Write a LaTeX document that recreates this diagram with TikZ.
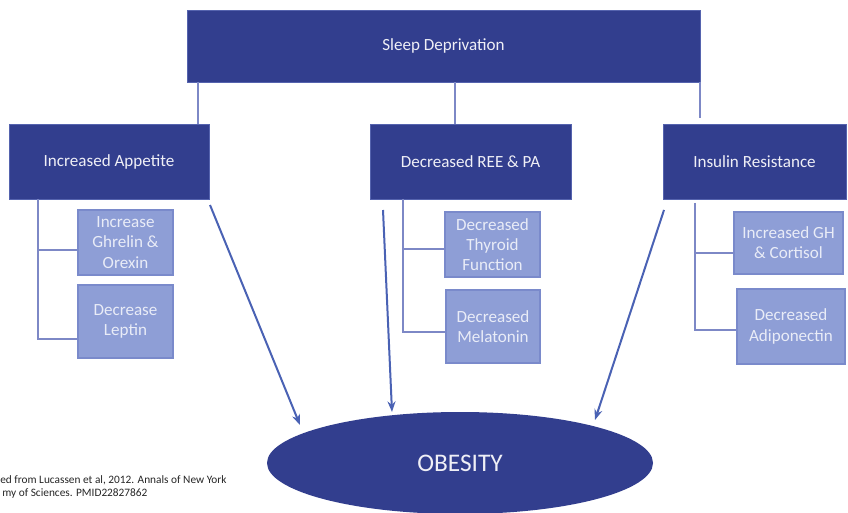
\documentclass[tikz,border=0pt]{standalone}
\usepackage{fontspec}
\setmainfont{Carlito}
\usetikzlibrary{arrows.meta,shapes.geometric}
\definecolor{darkbl}{HTML}{323E8E}
\definecolor{darkedge}{HTML}{5563AE}
\definecolor{lightbl}{HTML}{8E9ED6}
\definecolor{lightedge}{HTML}{7A8ACB}
\definecolor{subtext}{HTML}{E9ECF7}
\definecolor{linebl}{HTML}{7D88C6}
\definecolor{arrowbl}{HTML}{4A62B4}
\tikzset{
  darkbox/.style={draw=darkedge, line width=0.6pt, fill=darkbl, text=white!92!darkbl,
    inner sep=0pt, font=\fontsize{12.8}{15}\selectfont},
  subbox/.style={draw=lightedge, line width=0.8pt, fill=lightbl, text=subtext,
    inner sep=0pt, align=center, font=\fontsize{12.8}{15.2}\selectfont},
  trunk/.style={draw=linebl, line width=1.1pt},
  brack/.style={draw=linebl, line width=1.4pt},
  arr/.style={draw=arrowbl, line width=1.5pt, -{Stealth[length=8pt,width=6pt]}},
  obesity/.style={ellipse, fill=darkbl, text=white!92!darkbl, inner sep=0pt,
    font=\fontsize{19}{22}\selectfont},
  captext/.style={inner sep=0pt, anchor=west, text=black!85, font=\fontsize{8.5}{10}\selectfont}
}
\begin{document}
\begin{tikzpicture}[x=0.75pt,y=-0.75pt]
\useasboundingbox (0,0) rectangle (848,513);
\fill[white] (0,0) rectangle (848,513);

% top box
\node[darkbox, minimum width=384.75pt, minimum height=54pt] (sd) at (443.5,46) {Sleep Deprivation};

% second level
\node[darkbox, minimum width=150pt, minimum height=56.25pt] (ia) at (109,161.5) {Increased Appetite};
\node[darkbox, minimum width=150.75pt, minimum height=56.25pt] (dr) at (470.5,161.5) {Decreased REE \& PA};
\node[darkbox, minimum width=137.25pt, minimum height=56.25pt] (ir) at (754.5,161.5) {Insulin Resistance};

% sub boxes
\node[subbox, minimum width=71.25pt, minimum height=48.75pt] (gh) at (125.5,242.5) {Increase\\Ghrelin \&\\Orexin};
\node[subbox, minimum width=71.25pt, minimum height=54.75pt] (lp) at (125.5,321.5) {Decrease\\Leptin};
\node[subbox, minimum width=71.25pt, minimum height=48.75pt] (th) at (492.5,244.5) {Decreased\\Thyroid\\Function};
\node[subbox, minimum width=70.5pt, minimum height=54.75pt] (ml) at (493,326.5) {Decreased\\Melatonin};
\node[subbox, minimum width=81.75pt, minimum height=46.5pt] (gc) at (788.5,243) {Increased GH\\\& Cortisol};
\node[subbox, minimum width=81pt, minimum height=56.25pt] (ad) at (791,326.5) {Decreased\\Adiponectin};

% obesity
\node[obesity, minimum width=289.5pt, minimum height=76.5pt] (ob) at (460,463) {OBESITY};

% trunk connectors
\draw[trunk] (sd.south -| 198,0) -- (ia.north -| 198,0);
\draw[trunk] (sd.south -| 455,0) -- (dr.north -| 455,0);
\draw[trunk] (sd.south -| 700,0) -- (700,118);

% brackets
\coordinate (ba) at (38,199);
\draw[brack] (ba) |- (lp.west |- 0,339);
\draw[brack] (ba |- 0,250) -- (gh.west |- 0,250);
\coordinate (bb) at (403,199);
\draw[brack] (bb) |- (ml.west |- 0,332);
\draw[brack] (bb |- 0,249) -- (th.west |- 0,249);
\coordinate (bc) at (695,203);
\draw[brack] (bc) |- (ad.west |- 0,330);
\draw[brack] (bc |- 0,253) -- (gc.west |- 0,253);

% arrows
\coordinate (a1s) at (210,205);
\coordinate (a1e) at (300,425);
\coordinate (a2s) at (383,210);
\coordinate (a2e) at (392,412);
\coordinate (a3s) at (664,210);
\coordinate (a3e) at (595,420);
\draw[arr] (a1s) -- (a1e);
\draw[arr] (a2s) -- (a2e);
\draw[arr] (a3s) -- (a3e);

% caption
\node[captext] (c1) at (0,480) {ed from Lucassen et al, 2012. Annals of New York};
\node[captext] (c2) at (2,494) {my of Sciences. PMID22827862};
\end{tikzpicture}
\end{document}
